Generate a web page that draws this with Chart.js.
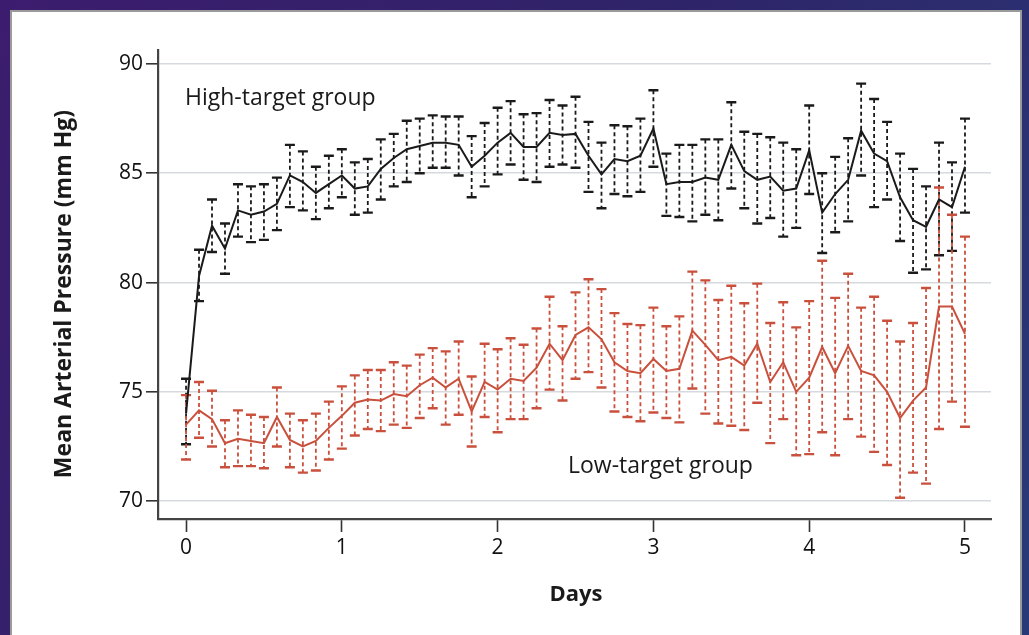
<!DOCTYPE html>
<html>
<head>
    <script src="https://cdn.jsdelivr.net/npm/chart.js"></script>
    <title>Mean Arterial Pressure</title>
    <style>
        html, body { margin: 0; padding: 0; }
        body {
            width: 1029px; height: 635px; overflow: hidden; position: relative;
            background: linear-gradient(120deg, #3c1c6e 0%, #2e2469 50%, #283a78 100%);
        }
        .panel {
            position: absolute; left: 10px; top: 10px; width: 1008px; height: 628px;
            background: #fff; border: 2px solid #9a9a9a;
        }
        canvas { position: absolute; left: 0; top: 0; }
    </style>
</head>
<body>
    <div class="panel"></div>
    <canvas id="chart" width="1029" height="635"></canvas>

    <script>
        // measurement times, hours from start
        const hours = [0, 2, 4, 6, 8, 10, 12, 14, 16, 18, 20, 22, 24, 26, 28, 30, 32, 34, 36, 38, 40,
            42, 44, 46, 48, 50, 52, 54, 56, 58, 60, 62, 64, 66, 68, 70, 72, 74, 76, 78, 80, 82,
            84, 86, 88, 90, 92, 94, 96, 98, 100, 102, 104, 106, 108, 110, 112, 114, 116, 118, 120];
        const dayTicks = [0, 1, 2, 3, 4, 5];
        const pressureTicks = [70, 75, 80, 85, 90];

        const highMean = [74.0, 80.3, 82.6, 81.55, 83.3, 83.1, 83.25, 83.6, 84.9, 84.6, 84.1, 84.5, 84.9,
            84.3, 84.4, 85.2, 85.7, 86.1, 86.25, 86.4, 86.4, 86.3, 85.3, 85.8, 86.4, 86.85, 86.2, 86.2,
            86.85, 86.75, 86.8, 85.8, 84.95, 85.65, 85.55, 85.8, 87.05, 84.5, 84.6, 84.6, 84.8, 84.7,
            86.3, 85.1, 84.7, 84.85, 84.2, 84.3, 86.05, 83.2, 84.05, 84.7, 86.95, 85.9, 85.55, 83.9,
            82.85, 82.55, 83.8, 83.45, 85.3];
        const highUpper = [75.6, 81.5, 83.8, 82.7, 84.5, 84.4, 84.5, 84.8, 86.3, 86.0, 85.3, 85.8, 86.1,
            85.5, 85.65, 86.55, 86.8, 87.4, 87.5, 87.65, 87.6, 87.6, 86.7, 87.3, 88.0, 88.3, 87.7, 87.75,
            88.35, 88.1, 88.5, 87.35, 86.4, 87.2, 87.15, 87.5, 88.8, 85.9, 86.3, 86.3, 86.55, 86.55,
            88.25, 86.9, 86.8, 86.65, 86.4, 86.1, 88.1, 85.0, 85.75, 86.6, 89.1, 88.4, 87.35, 85.9,
            85.2, 84.4, 86.4, 85.5, 87.5];
        const highLower = [72.6, 79.15, 81.4, 80.4, 82.1, 81.85, 81.95, 82.4, 83.45, 83.3, 82.9, 83.4, 83.9,
            83.1, 83.2, 83.8, 84.4, 84.6, 85.0, 85.25, 85.25, 84.9, 83.9, 84.4, 84.95, 85.4, 84.7, 84.6,
            85.3, 85.4, 85.25, 84.15, 83.4, 84.05, 83.95, 84.15, 85.3, 83.05, 83.0, 82.8, 83.1, 82.85,
            84.3, 83.4, 82.7, 82.95, 82.1, 82.5, 84.05, 81.35, 82.3, 82.8, 84.9, 83.45, 83.8, 81.9,
            80.45, 80.6, 81.25, 81.45, 83.2];

        const lowMean = [73.5, 74.15, 73.75, 72.65, 72.85, 72.75, 72.65, 73.85, 72.8, 72.5, 72.75, 73.35, 73.9,
            74.5, 74.65, 74.6, 74.9, 74.8, 75.3, 75.65, 75.2, 75.6, 74.1, 75.45, 75.1, 75.6, 75.5, 76.1,
            77.2, 76.45, 77.6, 77.95, 77.4, 76.35, 75.95, 75.85, 76.5, 75.95, 76.05, 77.8, 77.15, 76.45,
            76.6, 76.2, 77.2, 75.45, 76.35, 75.0, 75.65, 77.05, 75.85, 77.1, 75.95, 75.75, 75.0, 73.8,
            74.6, 75.2, 78.9, 78.9, 77.65];
        const lowUpper = [74.85, 75.45, 75.05, 73.7, 74.15, 73.95, 73.85, 75.2, 74.0, 73.7, 74.0, 74.55, 75.25,
            75.75, 76.0, 76.0, 76.35, 76.2, 76.7, 77.0, 76.85, 77.3, 75.7, 77.2, 76.95, 77.45, 77.15, 77.9,
            79.35, 78.0, 79.55, 80.15, 79.7, 78.6, 78.1, 78.05, 78.85, 78.0, 78.45, 80.5, 80.1, 79.2,
            79.85, 79.05, 79.95, 78.15, 79.1, 77.95, 79.15, 81.0, 79.3, 80.4, 78.85, 79.35, 78.25, 77.3,
            78.15, 79.75, 84.35, 83.1, 82.1];
        const lowLower = [71.9, 72.9, 72.5, 71.55, 71.6, 71.6, 71.5, 72.5, 71.55, 71.3, 71.4, 71.9, 72.4,
            73.0, 73.3, 73.2, 73.5, 73.35, 73.8, 74.25, 73.5, 73.95, 72.5, 73.85, 73.15, 73.75, 73.75, 74.25,
            75.1, 74.6, 75.6, 75.9, 75.2, 74.1, 73.85, 73.65, 74.05, 73.8, 73.6, 75.15, 74.0, 73.55,
            73.45, 73.25, 74.5, 72.65, 73.75, 72.1, 72.15, 73.15, 72.1, 73.75, 72.95, 72.25, 71.65, 70.15,
            71.3, 70.8, 73.3, 74.55, 73.4];

        const black = '#1a1a1a';
        const red = '#c9503c';
        const font = '"Open Sans", "DejaVu Sans", sans-serif';

        const days = hours.map(h => h / 24);
        const points = (vals) => vals.map((v, i) => ({ x: days[i], y: v }));

        function drawBars(ctx, x, y, lower, upper, color) {
            ctx.save();
            ctx.strokeStyle = color;
            for (let i = 0; i < days.length; i++) {
                const px = x.getPixelForValue(days[i]);
                const top = y.getPixelForValue(upper[i]);
                const bot = y.getPixelForValue(lower[i]);
                ctx.lineWidth = 1.8;
                ctx.setLineDash([4, 3]);
                ctx.beginPath();
                ctx.moveTo(px, top);
                ctx.lineTo(px, bot);
                ctx.stroke();
                ctx.setLineDash([]);
                ctx.lineWidth = 2.4;
                ctx.beginPath();
                ctx.moveTo(px - 5, top);
                ctx.lineTo(px + 5, top);
                ctx.moveTo(px - 5, bot);
                ctx.lineTo(px + 5, bot);
                ctx.stroke();
            }
            ctx.restore();
        }

        const errorBars = {
            id: 'errorBars',
            beforeDatasetsDraw(chart) {
                const { ctx, scales } = chart;
                drawBars(ctx, scales.x, scales.y, highLower, highUpper, black);
                drawBars(ctx, scales.x, scales.y, lowLower, lowUpper, red);
            },
            afterDraw(chart) {
                const ctx = chart.ctx;
                ctx.save();
                ctx.fillStyle = '#1a1a1a';
                ctx.textBaseline = 'middle';
                ctx.font = '23px ' + font;
                ctx.textAlign = 'left';
                ctx.fillText('High-target group', 185, 98);
                ctx.fillText('Low-target group', 568, 466);
                ctx.font = 'bold 22px ' + font;
                ctx.textAlign = 'center';
                ctx.fillText('Days', 576, 595);
                ctx.translate(64, 294);
                ctx.rotate(-Math.PI / 2);
                ctx.font = 'bold 23px ' + font;
                ctx.fillText('Mean Arterial Pressure (mm Hg)', 0, 0);
                ctx.restore();
            }
        };

        new Chart(document.getElementById('chart'), {
            type: 'line',
            data: {
                datasets: [{
                    label: 'High-target group',
                    data: points(highMean),
                    borderColor: black,
                    borderWidth: 2,
                    pointRadius: 0,
                    tension: 0
                }, {
                    label: 'Low-target group',
                    data: points(lowMean),
                    borderColor: red,
                    borderWidth: 2,
                    pointRadius: 0,
                    tension: 0
                }]
            },
            options: {
                responsive: false,
                animation: false,
                layout: { padding: { top: 50, right: 38, left: 0, bottom: 0 } },
                plugins: { legend: { display: false }, tooltip: { enabled: false } },
                scales: {
                    x: {
                        type: 'linear',
                        min: -0.18,
                        max: 5.167,
                        afterBuildTicks: (scale) => { scale.ticks = dayTicks.map(v => ({ value: v })); },
                        afterFit: (scale) => { scale.height = 116; },
                        grid: { drawOnChartArea: false, tickLength: 13, tickColor: '#333', tickWidth: 1.6 },
                        border: { color: '#444', width: 2.2 },
                        ticks: { color: '#111', padding: 3, font: { family: font, size: 21 } }
                    },
                    y: {
                        min: 69.18,
                        max: 90.64,
                        afterBuildTicks: (scale) => { scale.ticks = pressureTicks.map(v => ({ value: v })); },
                        afterFit: (scale) => { scale.width = 158; },
                        grid: { color: '#d6dade', lineWidth: 1.6, tickLength: 12, tickColor: '#333', tickWidth: 1.6 },
                        border: { color: '#444', width: 2.2 },
                        ticks: { color: '#111', padding: 3, font: { family: font, size: 21 } }
                    }
                }
            },
            plugins: [errorBars]
        });
    </script>
</body>
</html>
